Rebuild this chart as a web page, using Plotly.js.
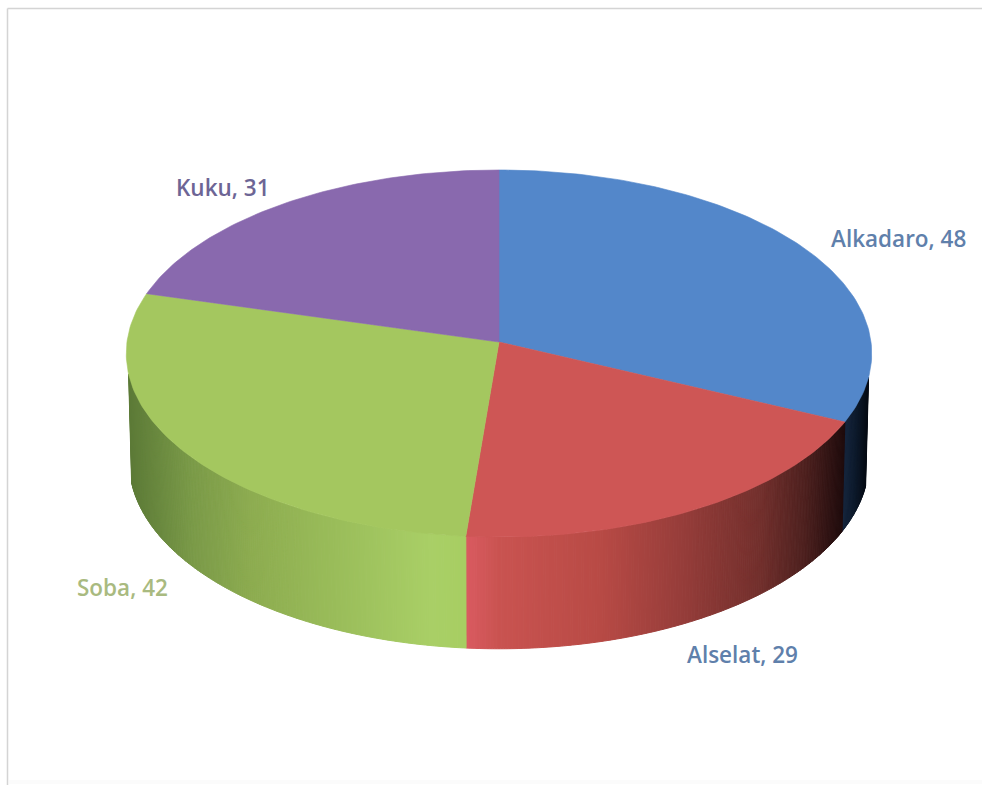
<!DOCTYPE html>
<html>
<head>
<meta charset="utf-8">
<script src="https://cdn.plot.ly/plotly-3.0.1.min.js"></script>
<style>html,body{margin:0;padding:0;background:#fff}#chart{width:982px;height:785px}</style>
</head>
<body>
<div id="chart"></div>
<script>
// Series
const categories = ["Alkadaro", "Alselat", "Soba", "Kuku"];
const values = [48, 29, 42, 31];

// Slice colours and label placement
const topColors = ["#5387ca", "#ce5655", "#a4c75f", "#8969ae"];
const labelColors = ["#5f80ab", "#5f80ab", "#a9ba80", "#6d6595"];
const labelX = [898, 742, 122, 223];
const labelY = [238, 654, 587, 187];

// Shading of the rim, as [pixel x, colour] stops for each visible slice
const rimStops = [
  [[843, "#16263f"], [856, "#0d1a2c"], [872, "#02050b"]],
  [[466, "#d95a60"], [500, "#c95350"], [600, "#b84a45"], [680, "#973d3a"], [760, "#73302d"], [805, "#4e211f"], [845, "#1e0b0c"]],
  [[128, "#5c7a37"], [190, "#7a9a48"], [250, "#8dac50"], [330, "#99bc59"], [430, "#a9cf66"], [466, "#a7ce62"]],
  []
];

// Perspective ring: top face and bottom edge of the disc
const topRing = {cx: 499, cy: 342, a: 372, b: 182.8, p: 0.0627};
const botRing = {cx: 499, cy: 450, a: 369, b: 186.3, p: 0.0627};

// Part of the rim that faces the viewer, in degrees clockwise from twelve o'clock
const rimFrom = 101, rimTo = 260, rimStep = 0.4;

function project(r, deg) {
  const t = deg * Math.PI / 180, u = Math.sin(t), v = Math.cos(t), d = 1 + r.p * v;
  return [r.cx + r.a * u / d, r.cy - r.b * v / d];
}

function hexToRgb(h) {
  return [1, 3, 5].map(i => parseInt(h.substr(i, 2), 16));
}

function shade(stops, x) {
  if (x <= stops[0][0]) return stops[0][1];
  for (let i = 1; i < stops.length; i++) {
    if (x <= stops[i][0]) {
      const f = (x - stops[i - 1][0]) / (stops[i][0] - stops[i - 1][0]);
      const c0 = hexToRgb(stops[i - 1][1]), c1 = hexToRgb(stops[i][1]);
      return "rgb(" + c0.map((c, k) => Math.round(c + (c1[k] - c) * f)).join(",") + ")";
    }
  }
  return stops[stops.length - 1][1];
}

const total = values.reduce((a, b) => a + b, 0);
const traces = [];
const face = [];
let start = 0;
values.forEach((val, i) => {
  const end = start + val / total * 360;

  // Rim strips
  const from = Math.max(start, rimFrom), to = Math.min(end, rimTo);
  for (let d = from; d < to; d += rimStep) {
    const e = Math.min(d + rimStep, to);
    const a = project(topRing, d), b = project(topRing, e);
    const c = project(botRing, e), g = project(botRing, d);
    const col = shade(rimStops[i], (a[0] + b[0]) / 2);
    traces.push({
      x: [a[0], b[0], c[0], g[0], a[0]], y: [a[1], b[1], c[1], g[1], a[1]],
      mode: "lines", fill: "toself", fillcolor: col,
      line: {color: col, width: 1}, hoverinfo: "skip", showlegend: false
    });
  }

  // Wedge on the top face
  const xs = [topRing.cx], ys = [topRing.cy];
  const n = Math.ceil(end - start);
  for (let k = 0; k <= n; k++) {
    const p = project(topRing, start + (end - start) * k / n);
    xs.push(p[0]); ys.push(p[1]);
  }
  xs.push(topRing.cx); ys.push(topRing.cy);
  face.push({
    x: xs, y: ys, mode: "lines", fill: "toself", fillcolor: topColors[i],
    line: {color: topColors[i], width: 0.6}, name: categories[i],
    hoverinfo: "skip", showlegend: false
  });
  start = end;
});

const annotations = categories.map((c, i) => ({
  text: c + ", " + values[i], x: labelX[i], y: labelY[i], xref: "x", yref: "y",
  showarrow: false, xanchor: "center", yanchor: "middle",
  font: {family: "Open Sans, Noto Sans, sans-serif", size: 22.5, weight: 600, color: labelColors[i]}
}));

const layout = {
  width: 982, height: 785,
  margin: {l: 0, r: 0, t: 0, b: 0},
  paper_bgcolor: "#ffffff", plot_bgcolor: "#ffffff",
  xaxis: {range: [0, 982], visible: false, fixedrange: true},
  yaxis: {range: [785, 0], visible: false, fixedrange: true},
  showlegend: false, hovermode: false, annotations,
  shapes: [
    {type: "line", xref: "x", yref: "y", x0: 7.5, y0: 8.5, x1: 982, y1: 8.5, line: {color: "#d4d4d4", width: 1.5}},
    {type: "line", xref: "x", yref: "y", x0: 7.5, y0: 8.5, x1: 7.5, y1: 785, line: {color: "#d4d4d4", width: 1.5}},
    {type: "line", xref: "x", yref: "y", x0: 9, y0: 782, x1: 982, y1: 782, line: {color: "#fbfbfb", width: 4}}
  ]
};

Plotly.newPlot("chart", traces.concat(face), layout, {displayModeBar: false, staticPlot: true});
</script>
</body>
</html>
